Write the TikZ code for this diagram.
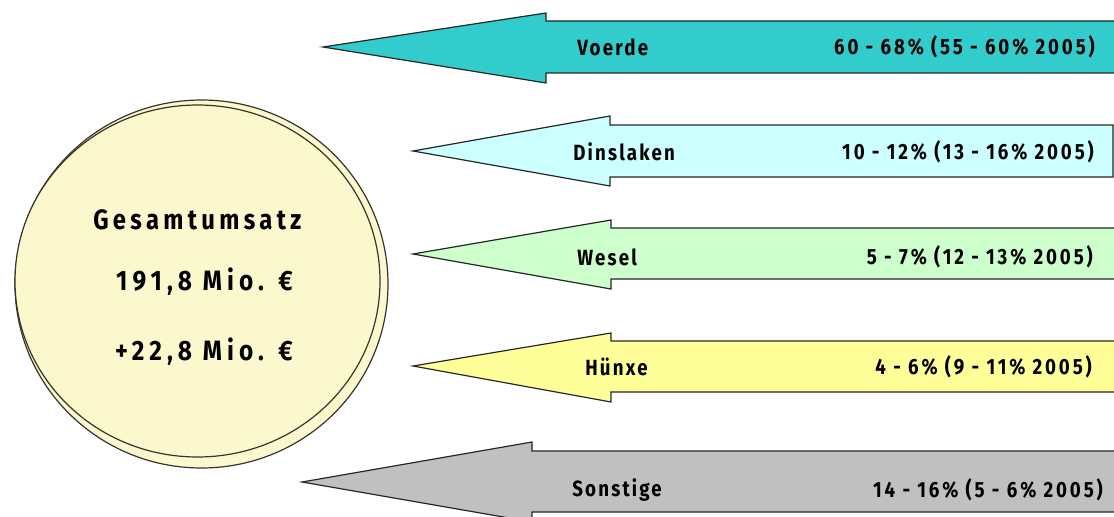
\documentclass[tikz,border=0pt]{standalone}
\usepackage{fontspec}
\setmainfont{Fira Sans}[FakeStretch=0.85, LetterSpace=10]
\newfontfamily\numfont{Fira Sans}[FakeStretch=0.85, LetterSpace=13]
\newfontfamily\titlefont{Fira Sans}[FakeStretch=0.85, LetterSpace=15.5]
\newfontfamily\bignumfont{Fira Sans}[FakeStretch=0.87, LetterSpace=18]
\begin{document}
\begin{tikzpicture}[x=0.75pt,y=-0.75pt,
  outline/.style={draw=black!85, line width=0.9pt, line join=miter},
  city/.style={font=\bfseries\fontsize{16.5}{18}\selectfont, anchor=west, inner sep=0pt},
  share/.style={font=\numfont\bfseries\fontsize{16.5}{18}\selectfont, anchor=east, inner sep=0pt},
  total/.style={font=\titlefont\bfseries\fontsize{21}{24}\selectfont, inner sep=0pt},
  amount/.style={font=\bignumfont\bfseries\fontsize{21}{24}\selectfont, inner sep=0pt, anchor=east}]
\definecolor{teal}{RGB}{51,204,204}
\definecolor{cyanl}{RGB}{204,255,255}
\definecolor{greenl}{RGB}{204,255,204}
\definecolor{yellowl}{RGB}{255,255,153}
\definecolor{grayl}{RGB}{192,192,192}
\definecolor{disc}{RGB}{250,248,204}
\useasboundingbox (0,0) rectangle (1114,517);

% turnover disc with its shadow ring
\draw[fill=disc, draw=black!80!olive, line width=0.9pt] (201.5,284) ellipse [x radius=186.5, y radius=184];
\draw[fill=disc, draw=black!80!olive, line width=0.9pt] (197.5,281) ellipse [x radius=182.5, y radius=176];
\node[total, anchor=west] (ges) at (93,220) {Gesamtumsatz};
\node[amount] (mio) at (293,282) {191,8 Mio. €};
\node[amount] (plus) at (293,352) {+22,8 Mio. €};

% arrows: tip, head, shaft
\draw[outline, fill=teal] (323,47) -- (546,13) -- (546,21) -- (1130,21) -- (1130,73) -- (546,73) -- (546,83) -- cycle;
\node[city] (voerde) at (577,47) {Voerde};
\node[share] (voerdeP) at (1095,47) {60 - 68\% (55 - 60\% 2005)};

\draw[outline, fill=cyanl] (413,151) -- (610,116) -- (610,125) -- (1113,125) -- (1113,177) -- (610,177) -- (610,186) -- cycle;
\node[city] (dins) at (573,152) {Dinslaken};
\node[share] (dinsP) at (1094,152) {10 - 12\% (13 - 16\% 2005)};

\draw[outline, fill=greenl] (413,254) -- (611,220) -- (611,228) -- (1130,228) -- (1130,279) -- (611,279) -- (611,289) -- cycle;
\node[city] (wesel) at (577,257) {Wesel};
\node[share] (weselP) at (1093,257) {5 - 7\% (12 - 13\% 2005)};

\draw[outline, fill=yellowl] (413,366) -- (611,333) -- (611,341) -- (1130,341) -- (1130,392) -- (611,392) -- (611,402) -- cycle;
\node[city] (huenxe) at (585,367) {Hünxe};
\node[share] (huenxeP) at (1092,367) {4 - 6\% (9 - 11\% 2005)};

\draw[outline, fill=grayl] (302,482) -- (532,442) -- (532,451) -- (1130,451) -- (1130,512) -- (532,512) -- (532,522) -- cycle;
\node[city] (sonst) at (572,490) {Sonstige};
\node[share] (sonstP) at (1103,490) {14 - 16\% (5 - 6\% 2005)};
\end{tikzpicture}
\end{document}
